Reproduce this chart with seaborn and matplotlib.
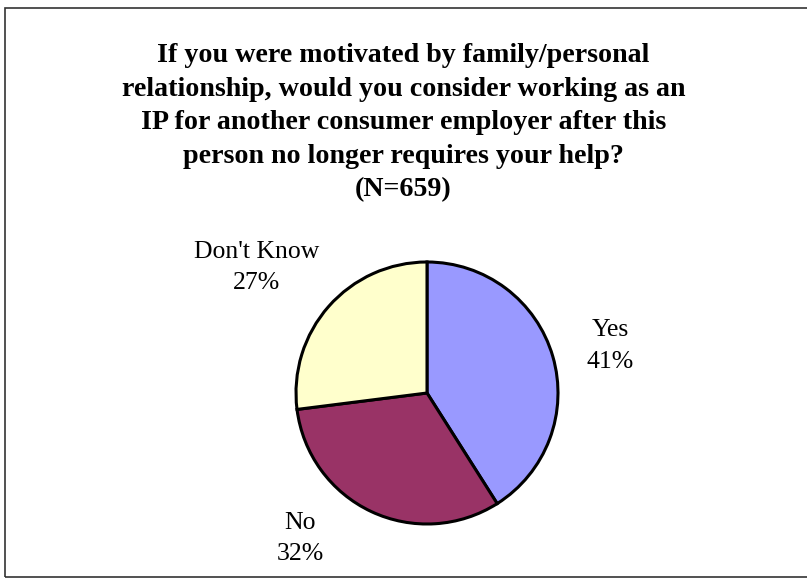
import matplotlib
matplotlib.use("Agg")
import matplotlib.pyplot as plt
from matplotlib.patches import Rectangle
import seaborn as sns

categories = ["Yes", "No", "Don't Know"]
shares = [41, 32, 27]
slice_colors = ["#9999FF", "#993366", "#FFFFCC"]
title_text = ("If you were motivated by family/personal\n"
              "relationship, would you consider working as an\n"
              "IP for another consumer employer after this\n"
              "person no longer requires your help?\n"
              "(N=659)")

sns.set_theme(style="white")
plt.rcParams["font.family"] = ["Liberation Serif", "DejaVu Serif"]
plt.rcParams["text.color"] = "black"

W, H = 807, 578
fig = plt.figure(figsize=(W / 100, H / 100), dpi=100)
fig.patch.set_facecolor("white")

# outer frame
fig.add_artist(Rectangle((5 / W, 1.5 / H), (W + 5) / W, (H - 9.5) / H,
                         transform=fig.transFigure, fill=False,
                         edgecolor="#333333", linewidth=1.2))

fig.text(0.5, 1 - 43 / H, title_text, ha="center", va="top",
         fontsize=20.2, fontweight="bold", linespacing=1.45, color="black")

cx, cy, r = 427, 393, 131
ax = fig.add_axes([(cx - r) / W, (H - cy - r) / H, 2 * r / W, 2 * r / H])
ax.pie(shares, colors=slice_colors, startangle=90, counterclock=False,
       wedgeprops=dict(edgecolor="black", linewidth=2.2))
ax.set_xlim(-1, 1)
ax.set_ylim(-1, 1)
ax.set_aspect("equal")
ax.axis("off")

label_pos = [(1.40, 0.36), (-0.97, -1.11), (-1.30, 0.96)]
for name, val, (lx, ly) in zip(categories, shares, label_pos):
    ax.text(lx, ly, f"{name}\n{val}%", ha="center", va="center",
            fontsize=18.5, linespacing=1.55, color="black")

fig.savefig("out.png", dpi=100)
